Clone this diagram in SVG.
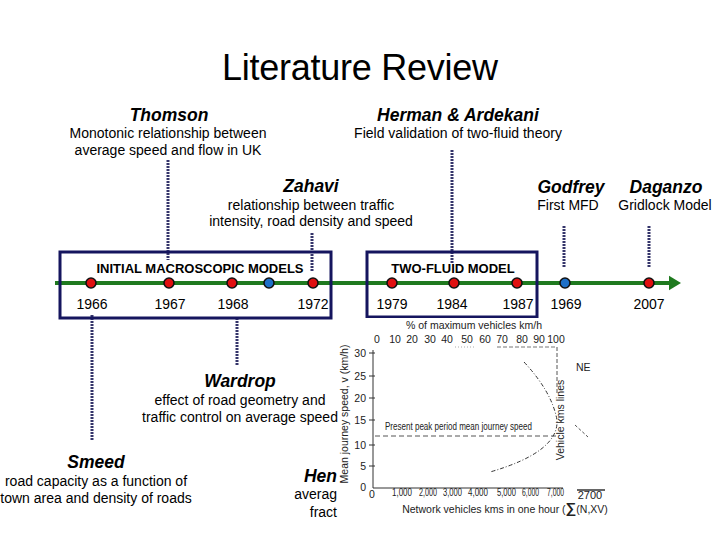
<svg xmlns="http://www.w3.org/2000/svg" width="720" height="540" viewBox="0 0 720 540">
<style>
.t{font-family:"Liberation Sans",Arial,sans-serif;fill:#000}
.name{font-size:17.5px;font-weight:bold;font-style:italic;text-anchor:middle}
.desc{font-size:14px;text-anchor:middle}
.yr{font-size:14px;text-anchor:middle}
.bx{font-size:13px;font-weight:bold;text-anchor:middle}
.conn{stroke:#34346a;stroke-width:3;stroke-dasharray:2 1;fill:none}
.box{fill:none;stroke:#15155e;stroke-width:3}
.red{fill:#e01010;stroke:#111;stroke-width:1.6}
.blue{fill:#1e70c8;stroke:#111;stroke-width:1.6}
.ch{font-family:"Liberation Sans",Arial,sans-serif;fill:#222;font-size:10.5px}
.cax{stroke:#333;stroke-width:1;fill:none}
</style>
<defs>
<marker id="arr" markerWidth="4" markerHeight="4" refX="1" refY="2" orient="auto" markerUnits="strokeWidth">
<path d="M0,0.2 L3,2 L0,3.8 z" fill="#1f7a1f"/>
</marker>
<clipPath id="clipL"><rect x="0" y="0" width="338" height="540"/></clipPath>
</defs>
<rect width="720" height="540" fill="#fff"/>
<text class="t" x="360" y="80" font-size="36" text-anchor="middle" textLength="276">Literature Review</text>

<g id="connectors">
<line class="conn" x1="168" y1="160" x2="168" y2="260"/>
<line class="conn" x1="452" y1="150" x2="452" y2="264"/>
<line class="conn" x1="312" y1="233" x2="312" y2="272"/>
<line class="conn" x1="564" y1="226" x2="564" y2="268"/>
<line class="conn" x1="649" y1="226" x2="649" y2="268"/>
<line class="conn" x1="92" y1="315" x2="92" y2="440"/>
<line class="conn" x1="237" y1="318" x2="237" y2="366"/>
</g>

<g id="timeline">
<line x1="55" y1="283" x2="673" y2="283" stroke="#1f7a1f" stroke-width="4" marker-end="url(#arr)"/>
</g>

<g id="box-initial">
<rect class="box" x="60" y="252" width="271" height="66"/>
<text class="t bx" x="200" y="273">INITIAL MACROSCOPIC MODELS</text>
</g>
<g id="box-twofluid">
<rect class="box" x="367" y="252" width="170" height="65"/>
<text class="t bx" x="453" y="273">TWO-FLUID MODEL</text>
</g>

<g id="dots">
<circle class="red" cx="91" cy="283" r="5"/>
<circle class="red" cx="169" cy="283" r="5"/>
<circle class="red" cx="232" cy="283" r="5"/>
<circle class="blue" cx="269" cy="283" r="5"/>
<circle class="red" cx="313" cy="283" r="5"/>
<circle class="red" cx="392" cy="283" r="5"/>
<circle class="red" cx="454" cy="283" r="5"/>
<circle class="red" cx="517" cy="283" r="5"/>
<circle class="blue" cx="565" cy="283" r="5"/>
<circle class="red" cx="649" cy="283" r="5"/>
</g>

<g id="years">
<text class="t yr" x="92" y="309">1966</text>
<text class="t yr" x="170" y="309">1967</text>
<text class="t yr" x="233" y="309">1968</text>
<text class="t yr" x="313" y="309">1972</text>
<text class="t yr" x="392" y="309">1979</text>
<text class="t yr" x="452" y="309">1984</text>
<text class="t yr" x="518" y="309">1987</text>
<text class="t yr" x="566" y="309">1969</text>
<text class="t yr" x="649" y="309">2007</text>
</g>

<g id="thomson">
<text class="t name" x="169" y="121">Thomson</text>
<text class="t desc" x="168" y="138">Monotonic relationship between</text>
<text class="t desc" x="168" y="155">average speed and flow in UK</text>
</g>
<g id="herman-ardekani">
<text class="t name" x="458" y="121">Herman &amp; Ardekani</text>
<text class="t desc" x="458" y="138">Field validation of two-fluid theory</text>
</g>
<g id="zahavi">
<text class="t name" x="311" y="192">Zahavi</text>
<text class="t desc" x="311" y="210">relationship between traffic</text>
<text class="t desc" x="311" y="226">intensity, road density and speed</text>
</g>
<g id="godfrey">
<text class="t name" x="571" y="193">Godfrey</text>
<text class="t desc" x="568" y="210" font-size="14.5">First MFD</text>
</g>
<g id="daganzo">
<text class="t name" x="666" y="193">Daganzo</text>
<text class="t desc" x="665" y="210" font-size="14.5">Gridlock Model</text>
</g>
<g id="wardrop">
<text class="t name" x="240" y="387">Wardrop</text>
<text class="t desc" x="240" y="405">effect of road geometry and</text>
<text class="t desc" x="240" y="422" clip-path="url(#clipL)">traffic control on average speed</text>
</g>
<g id="smeed">
<text class="t name" x="96" y="468">Smeed</text>
<text class="t desc" x="96" y="486">road capacity as a function of</text>
<text class="t desc" x="96" y="503">town area and density of roads</text>
</g>
<g id="herman-cut">
<text class="t" x="337" y="482" font-size="17.5" font-weight="bold" font-style="italic" text-anchor="end">Hen</text>
<text class="t" x="337" y="499" font-size="14" text-anchor="end">averag</text>
<text class="t" x="337" y="517" font-size="14" text-anchor="end">fract</text>
</g>

<g id="chart">
<rect x="338" y="318" width="274" height="214" fill="#fff"/>
<text class="ch" x="474" y="329" font-size="12.3" text-anchor="middle">% of maximum vehicles km/h</text>
<g class="ch" text-anchor="middle">
<text x="377" y="343">0</text><text x="395" y="343">10</text><text x="412" y="343">20</text><text x="430" y="343">30</text><text x="447" y="343">40</text><text x="467" y="343">50</text><text x="485" y="343">60</text><text x="502" y="343">70</text><text x="522" y="343">80</text><text x="539" y="343">90</text><text x="556" y="343">100</text>
</g>
<g class="ch" text-anchor="end">
<text x="366" y="357">30</text><text x="366" y="380">25</text><text x="366" y="402">20</text><text x="366" y="424">15</text><text x="366" y="449">10</text><text x="366" y="470">5</text><text x="366" y="491">0</text>
</g>
<path class="cax" d="M373,350 V488 H563 M369,353 H375 M369,376 H375 M369,398 H375 M369,420 H375 M369,445 H375 M369,466 H375"/>
<text class="ch" font-size="12.5" transform="translate(348,414) rotate(-90)" text-anchor="middle">Mean journey speed, v (km/h)</text>
<g class="ch">
<text x="372" y="498" text-anchor="middle">0</text>
<text x="392" y="496" textLength="20" lengthAdjust="spacingAndGlyphs">1,000</text>
<text x="419" y="496" textLength="18" lengthAdjust="spacingAndGlyphs">2,000</text>
<text x="443" y="496" textLength="19" lengthAdjust="spacingAndGlyphs">3,000</text>
<text x="468" y="496" textLength="20" lengthAdjust="spacingAndGlyphs">4,000</text>
<text x="497" y="496" textLength="19" lengthAdjust="spacingAndGlyphs">5,000</text>
<text x="522" y="496" textLength="17" lengthAdjust="spacingAndGlyphs">6,000</text>
<text x="547" y="496" textLength="17" lengthAdjust="spacingAndGlyphs">7,000</text>
<text x="590" y="499" font-size="11" text-anchor="middle">2700</text>
</g>
<line x1="577" y1="490" x2="605" y2="490" stroke="#333" stroke-width="1.5"/>
<text class="ch" x="505" y="513" font-size="12" text-anchor="middle">Network vehicles kms in one hour (<tspan font-size="15" font-weight="bold">∑</tspan>(N,XV)</text>
<text class="ch" x="385" y="430" font-size="8.5" textLength="147" lengthAdjust="spacingAndGlyphs">Present peak period mean journey speed</text>
<line x1="375" y1="436" x2="556" y2="436" stroke="#555" stroke-width="1" stroke-dasharray="5 3"/>
<line x1="497" y1="347" x2="557" y2="347" stroke="#777" stroke-width="1" stroke-dasharray="4 2"/>
<line x1="455" y1="347" x2="475" y2="347" stroke="#aaa" stroke-width="1" stroke-dasharray="1 2"/>
<line x1="557" y1="347" x2="557" y2="393" stroke="#555" stroke-width="1" stroke-dasharray="4 2"/>
<text class="ch" font-size="8.5" transform="translate(564,420) rotate(-90)" text-anchor="middle">Vehicle kms lines</text>
<path d="M524,362 Q552,392 557,420 Q559,452 490,472" fill="none" stroke="#333" stroke-width="1" stroke-dasharray="4 2 1 2"/>
<line x1="575" y1="425" x2="588" y2="437" stroke="#555" stroke-width="1" stroke-dasharray="3 2"/>
<text class="ch" x="576" y="371" font-size="8.5">NE</text>
</g>
</svg>
